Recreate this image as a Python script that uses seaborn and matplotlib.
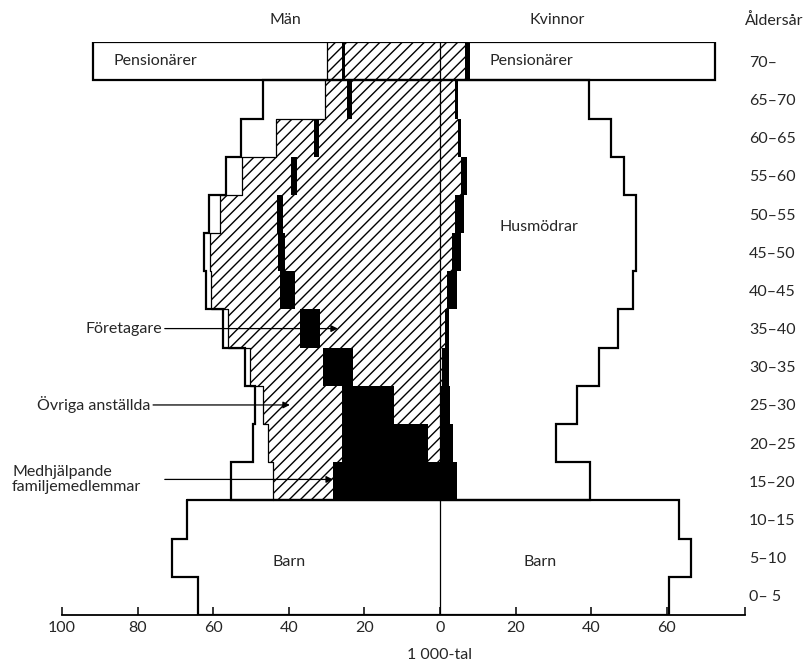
import matplotlib

matplotlib.use("Agg")

import matplotlib.pyplot as plt
import numpy as np
import pandas as pd
import seaborn as sns

# age groups, oldest at the top
ages = ["70–", "65–70", "60–65", "55–60", "50–55", "45–50", "40–45", "35–40",
        "30–35", "25–30", "20–25", "15–20", "10–15", "5–10", "0– 5"]

# men, 1000s (working groups stacked from the centre outwards)
men_foretagare = [25.1, 23.3, 32.0, 37.8, 41.5, 41.0, 38.4, 31.7, 23.0, 12.2, 3.2, 0.0, 0, 0, 0]
men_medhjalpande = [0.8, 1.3, 1.3, 1.6, 1.6, 1.9, 3.9, 5.3, 8.0, 13.7, 22.7, 28.3, 0, 0, 0]
men_anstallda = [4.0, 5.8, 10.1, 13.0, 15.1, 17.9, 18.3, 19.0, 19.3, 20.9, 19.6, 15.9, 0, 0, 0]
# pensionärer (70–), others not working, barn (0–15)
men_ovriga = [61.9, 16.4, 9.2, 4.2, 2.9, 1.6, 1.3, 1.4, 1.3, 2.1, 4.0, 11.1, 66.9, 70.9, 64.0]

# women, 1000s
women_forvarv = [6.6, 4.0, 4.8, 5.6, 4.0, 3.2, 1.9, 1.3, 0.5, 0.3, 0.3, 0.0, 0, 0, 0]
women_medhjalpande = [1.3, 0.8, 0.8, 1.5, 2.3, 2.4, 2.6, 1.1, 1.9, 2.3, 3.1, 4.5, 0, 0, 0]
# pensionärer, husmödrar, barn
women_ovriga = [64.9, 34.7, 39.6, 41.6, 45.6, 46.3, 46.6, 44.7, 39.7, 33.6, 27.3, 35.2, 63.2, 66.4, 60.6]


def outline(widths, rows):
    xs, ys = [], []
    for w, r in zip(widths, rows):
        xs += [w, w]
        ys += [r - 0.5, r + 0.5]
    return xs, ys


def main():
    sns.set_style("white")
    plt.rcParams["font.family"] = ["Lato", "DejaVu Sans"]
    plt.rcParams["hatch.linewidth"] = 1.0
    fs = 11.5

    m_a = np.array(men_foretagare)
    m_b = m_a + np.array(men_medhjalpande)
    m_c = m_b + np.array(men_anstallda)
    m_d = m_c + np.array(men_ovriga)
    k_a = np.array(women_forvarv)
    k_b = k_a + np.array(women_medhjalpande)
    k_c = k_b + np.array(women_ovriga)

    df = pd.DataFrame({"age": ages, "m_c": -m_c, "m_b": -m_b, "m_a": -m_a,
                       "k_b": k_b, "k_a": k_a})

    fig = plt.figure(figsize=(8.07, 6.63), dpi=100)
    ax = fig.add_axes([0.0768, 0.0724, 0.8463, 0.864])

    bar = dict(data=df, y="age", order=ages, orient="h", width=1.0, errorbar=None,
               saturation=1, linewidth=0, edgecolor="black", ax=ax)
    sns.barplot(x="m_c", color="white", hatch="///", **bar)
    sns.barplot(x="m_b", color="black", **bar)
    sns.barplot(x="m_a", color="white", hatch="///", **bar)
    sns.barplot(x="k_b", color="black", **bar)
    sns.barplot(x="k_a", color="white", hatch="///", **bar)

    thick = dict(color="black", lw=1.6, solid_joinstyle="miter", zorder=4)
    thin = dict(color="black", lw=0.9, zorder=3)

    # working ages outlines
    work = np.arange(1, 12)
    xs, ys = outline(-m_d[work], work)
    ax.plot([0] + xs + [0], [work[0] - 0.5] + ys + [work[-1] + 0.5], **thick)
    xs, ys = outline(k_c[work], work)
    ax.plot([0] + xs + [0], [work[0] - 0.5] + ys + [work[-1] + 0.5], **thick)
    xs, ys = outline(-m_c[:12], range(12))
    ax.plot(xs, ys, **thin)

    # pensionärer box
    ax.plot([-m_d[0], k_c[0], k_c[0], -m_d[0], -m_d[0]], [-0.5, -0.5, 0.5, 0.5, -0.5], **thick)

    # barn block
    barn = np.arange(12, 15)
    lx, ly = outline(-m_d[barn], barn)
    rx, ry = outline(k_c[barn], barn)
    ax.plot(lx + rx[::-1] + [lx[0]], ly + ry[::-1] + [ly[0]], **thick)

    ax.axvline(0, color="black", lw=0.9, zorder=3)

    # axes
    ax.set_xlim(-100, 80.7)
    ax.set_ylim(14.5, -0.5)
    ticks = np.arange(-100, 61, 20)
    ax.set_xticks(ticks)
    ax.set_xticklabels([f"{abs(t)}" for t in ticks])
    ax.set_xticks([80.7], minor=True)
    ax.tick_params(axis="x", which="both", direction="in", length=6, width=1.1,
                   pad=4, labelsize=fs, bottom=True, color="black")
    ax.yaxis.tick_right()
    ax.tick_params(axis="y", length=0, pad=3, labelsize=fs)
    ax.set_xlabel("")
    ax.set_ylabel("")
    sns.despine(ax=ax, left=True)
    ax.spines["bottom"].set_linewidth(1.3)
    ax.spines["bottom"].set_color("black")

    # texts
    top = ax.get_xaxis_transform()
    ax.text(-41, 1.038, "Män", transform=top, ha="center", va="center", fontsize=fs)
    ax.text(31, 1.038, "Kvinnor", transform=top, ha="center", va="center", fontsize=fs)
    ax.text(1.0, 1.038, "Åldersår", transform=ax.transAxes, ha="left", va="center", fontsize=fs)
    ax.text(0, -0.07, "1 000-tal", transform=top, ha="center", va="center", fontsize=fs)

    ax.text(-86.5, 0, "Pensionärer", ha="left", va="center", fontsize=fs, zorder=5)
    ax.text(13.2, 0, "Pensionärer", ha="left", va="center", fontsize=fs, zorder=5)
    ax.text(26.2, 4.35, "Husmödrar", ha="center", va="center", fontsize=fs, zorder=5)
    ax.text(-40, 13.1, "Barn", ha="center", va="center", fontsize=fs, zorder=5)
    ax.text(26.5, 13.1, "Barn", ha="center", va="center", fontsize=fs, zorder=5)

    arrow = dict(arrowstyle="-|>", color="black", lw=0.9, mutation_scale=10,
                 shrinkA=0, shrinkB=0)
    ax.text(-73.5, 7, "Företagare", ha="right", va="center", fontsize=fs)
    ax.annotate("", xy=(-27.0, 7), xytext=(-72.8, 7), arrowprops=arrow, annotation_clip=False)
    ax.text(-76.7, 9, "Övriga anställda", ha="right", va="center", fontsize=fs)
    ax.annotate("", xy=(-39.7, 9), xytext=(-75.9, 9), arrowprops=arrow, annotation_clip=False)
    ax.text(-113.2, 10.95, "Medhjälpande\nfamiljemedlemmar", ha="left", va="center",
            fontsize=fs, linespacing=1.15)
    ax.annotate("", xy=(-28.3, 10.95), xytext=(-72.8, 10.95), arrowprops=arrow,
                annotation_clip=False)

    fig.savefig("out.png", dpi=100)


if __name__ == "__main__":
    main()
